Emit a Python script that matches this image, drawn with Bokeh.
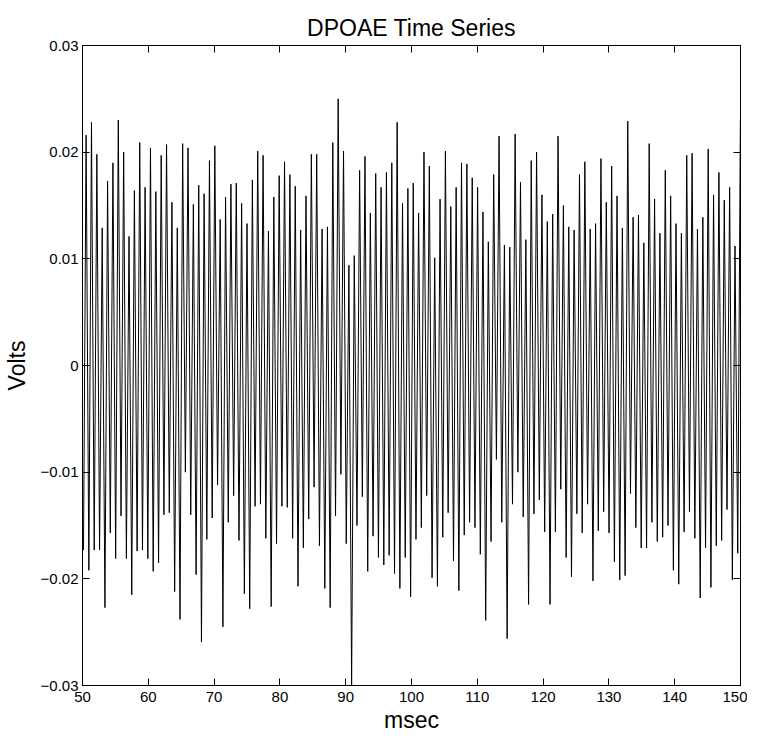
from bokeh.plotting import figure
from bokeh.models import LinearAxis, FixedTicker, Range1d
from bokeh.embed import file_html
from bokeh.resources import INLINE

# Peak (positive) extremes of each cycle, read left to right (Volts)
peaks = [0.0216, 0.0228, 0.0198, 0.0129, 0.0173, 0.0190, 0.0230, 0.0200, 0.0121, 0.0164,
         0.0209, 0.0167, 0.0204, 0.0163, 0.0197, 0.0207, 0.0153, 0.0129, 0.0208, 0.0204,
         0.0151, 0.0169,
         0.0161, 0.0192, 0.0206, 0.0137, 0.0158, 0.0170, 0.0171, 0.0152, 0.0133, 0.0174,
         0.0201, 0.0197, 0.0126, 0.0158, 0.0178, 0.0191, 0.0179, 0.0168, 0.0127, 0.0159,
         0.0198, 0.0198, 0.0128, 0.0130, 0.0209,
         0.0250, 0.0201, 0.0094, 0.0103, 0.0183, 0.0196, 0.0143, 0.0180, 0.0167, 0.0181,
         0.0190, 0.0228, 0.0152, 0.0166, 0.0171, 0.0143, 0.0200, 0.0187, 0.0101, 0.0156,
         0.0201, 0.0149, 0.0167, 0.0190, 0.0189, 0.0176, 0.0167,
         0.0144, 0.0116, 0.0179, 0.0215, 0.0113, 0.0111, 0.0217, 0.0172, 0.0118, 0.0192,
         0.0200, 0.0160, 0.0135, 0.0142, 0.0215, 0.0150, 0.0130, 0.0127, 0.0179, 0.0191,
         0.0128, 0.0133, 0.0194, 0.0153, 0.0187,
         0.0159, 0.0129, 0.0229, 0.0139, 0.0141, 0.0115, 0.0208, 0.0156, 0.0124, 0.0183,
         0.0159, 0.0133, 0.0124, 0.0197, 0.0199, 0.0128, 0.0139, 0.0203, 0.0160, 0.0181,
         0.0155, 0.0167, 0.0112, 0.0231]

# Trough (negative) extremes of each cycle, read left to right (Volts)
troughs = [-0.0173, -0.0192, -0.0173, -0.0173, -0.0227, -0.0157, -0.0181, -0.0141, -0.0181, -0.0215,
           -0.0174, -0.0173, -0.0181, -0.0193, -0.0185, -0.0140, -0.0138, -0.0212, -0.0238, -0.0100,
           -0.0140, -0.0196,
           -0.0259, -0.0163, -0.0143, -0.0112, -0.0245, -0.0147, -0.0122, -0.0164, -0.0214, -0.0228,
           -0.0132, -0.0130, -0.0162, -0.0226, -0.0167, -0.0132, -0.0133, -0.0162, -0.0207, -0.0171,
           -0.0144, -0.0114, -0.0169, -0.0209, -0.0227,
           -0.0141, -0.0102, -0.0167, -0.0300, -0.0150, -0.0123, -0.0193, -0.0160, -0.0180, -0.0187,
           -0.0178, -0.0195, -0.0209, -0.0180, -0.0217, -0.0163, -0.0152, -0.0122, -0.0199, -0.0207,
           -0.0161, -0.0138, -0.0183, -0.0211, -0.0159, -0.0147, -0.0152,
           -0.0177, -0.0239, -0.0165, -0.0088, -0.0147, -0.0256, -0.0130, -0.0100, -0.0142, -0.0224,
           -0.0139, -0.0126, -0.0156, -0.0224, -0.0156, -0.0116, -0.0180, -0.0198, -0.0139, -0.0157,
           -0.0130, -0.0202, -0.0155, -0.0137, -0.0157, -0.0184,
           -0.0201, -0.0197, -0.0120, -0.0152, -0.0171, -0.0171, -0.0147, -0.0165, -0.0161, -0.0150,
           -0.0192, -0.0205, -0.0156, -0.0137, -0.0162, -0.0218, -0.0171, -0.0208, -0.0169, -0.0164,
           -0.0135, -0.0201, -0.0176]

first_peak_ms = 50.55     # time of first peak
period_ms = 0.815         # spacing between successive cycles
half_ms = 0.40            # trough precedes its peak by about half a cycle

x_ticks = [50, 60, 70, 80, 90, 100, 110, 120, 130, 140, 150]
y_ticks = [-0.03, -0.02, -0.01, 0, 0.01, 0.02, 0.03]
y_labels = ["\u22120.03", "\u22120.02", "\u22120.01", "0", "0.01", "0.02", "0.03"]

# Interleave troughs and peaks into one time series
ts, vs = [], []
for k in range(len(peaks)):
    tp = first_peak_ms + k * period_ms
    ts.append(tp - half_ms); vs.append(troughs[k])
    ts.append(tp); vs.append(peaks[k])

FONT = "Liberation Sans"

p = figure(frame_width=658, frame_height=640, output_backend="svg", toolbar_location=None,
           x_range=Range1d(50, 150), y_range=Range1d(-0.03, 0.03),
           min_border_left=76, min_border_right=7, min_border_top=45, min_border_bottom=48)
p.title.text = "DPOAE Time Series"
p.title.align = "center"
p.title.text_font = FONT
p.title.text_font_size = "23px"
p.title.text_font_style = "normal"
p.title.text_color = "black"

p.line(ts, vs, line_color="black", line_width=1)

p.xgrid.visible = False
p.ygrid.visible = False
p.outline_line_color = "black"
p.outline_line_width = 1
p.background_fill_color = "white"
p.border_fill_color = "white"

xa = p.xaxis[0]
xa.ticker = FixedTicker(ticks=x_ticks)
xa.axis_label = "msec"
ya = p.yaxis[0]
ya.ticker = FixedTicker(ticks=y_ticks)
ya.major_label_overrides = {t: l for t, l in zip(y_ticks, y_labels)}
ya.axis_label = "Volts"

for ax in (xa, ya):
    ax.major_tick_in = 7
    ax.major_tick_out = 0
    ax.minor_tick_in = 0
    ax.minor_tick_out = 0
    ax.axis_line_color = "black"
    ax.major_tick_line_color = "black"
    ax.major_label_text_font = FONT
    ax.major_label_text_font_size = "15px"
    ax.major_label_text_color = "black"
    ax.axis_label_text_font = FONT
    ax.axis_label_text_font_size = "23px"
    ax.axis_label_text_font_style = "normal"
    ax.axis_label_text_color = "black"
xa.major_label_standoff = 6
xa.axis_label_standoff = 2
ya.major_label_standoff = 4
ya.axis_label_standoff = 8

top = LinearAxis(ticker=FixedTicker(ticks=x_ticks), major_label_text_font_size="0px",
                 major_tick_in=7, major_tick_out=0, minor_tick_in=0, minor_tick_out=0,
                 axis_line_color="black", major_label_standoff=0)
right = LinearAxis(ticker=FixedTicker(ticks=y_ticks), major_label_text_font_size="0px",
                   major_tick_in=7, major_tick_out=0, minor_tick_in=0, minor_tick_out=0,
                   axis_line_color="black", major_label_standoff=0)
top.major_label_overrides = {t: "" for t in x_ticks}
right.major_label_overrides = {t: "" for t in y_ticks}
p.add_layout(top, "above")
p.add_layout(right, "right")

open("out.html", "w").write(file_html(p, INLINE))
